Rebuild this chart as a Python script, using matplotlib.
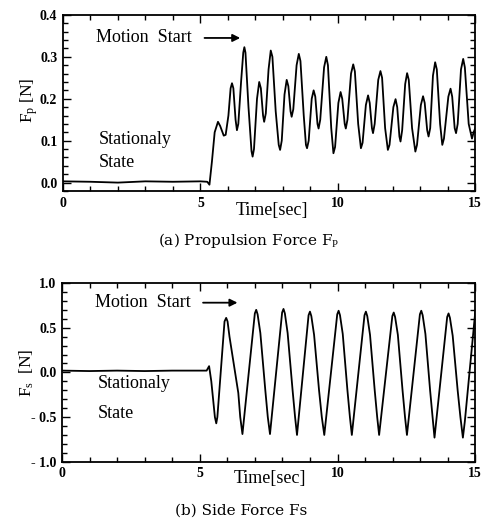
import numpy as np
import matplotlib
matplotlib.use("Agg")
import matplotlib.pyplot as plt
from matplotlib.ticker import MultipleLocator

plt.rcParams['font.family'] = 'Liberation Serif'
plt.rcParams['mathtext.fontset'] = 'custom'
plt.rcParams['mathtext.rm'] = 'Liberation Serif'
plt.rcParams['mathtext.it'] = 'Liberation Serif:italic'

# Propulsion force Fp
t_fp = [0.0, 1.0, 2.0, 3.0, 4.0, 5.0, 5.25, 5.33, 5.42, 5.52, 5.64, 5.72, 5.85, 5.92,
        6.02, 6.10, 6.15, 6.20, 6.28, 6.33, 6.38, 6.48, 6.56, 6.60, 6.64, 6.75, 6.86, 6.90,
        6.95, 7.06, 7.14, 7.20, 7.28, 7.32, 7.38, 7.48, 7.56, 7.62, 7.74, 7.85, 7.90,
        7.96, 8.06, 8.14, 8.20, 8.28, 8.32, 8.38, 8.50, 8.58, 8.64, 8.76, 8.84, 8.88,
        8.94, 9.05, 9.12, 9.18, 9.26, 9.30, 9.36, 9.50, 9.58, 9.64, 9.76, 9.84,
        9.90, 10.02, 10.10, 10.16, 10.25, 10.29, 10.35, 10.48, 10.56, 10.62, 10.74, 10.84,
        10.90, 11.02, 11.10, 11.16, 11.24, 11.28, 11.34, 11.47, 11.55, 11.61, 11.72, 11.82,
        11.88, 12.02, 12.10, 12.16, 12.24, 12.28, 12.34, 12.45, 12.52, 12.58, 12.70, 12.82,
        12.88, 13.02, 13.10, 13.16, 13.25, 13.30, 13.36, 13.46, 13.54, 13.60, 13.72, 13.80,
        13.86, 14.02, 14.10, 14.16, 14.25, 14.30, 14.36, 14.48, 14.56, 14.62, 14.76, 14.88,
        14.94, 15.0]
fp = [0.003, 0.002, 0.0, 0.003, 0.002, 0.003, 0.002, -0.005, 0.05, 0.12, 0.145, 0.135, 0.112, 0.114,
      0.16, 0.225, 0.237, 0.225, 0.15, 0.125, 0.14, 0.24, 0.31, 0.323, 0.31, 0.18, 0.075, 0.062,
      0.08, 0.20, 0.24, 0.225, 0.16, 0.145, 0.165, 0.27, 0.315, 0.30, 0.17, 0.09, 0.078,
      0.10, 0.21, 0.245, 0.23, 0.17, 0.157, 0.175, 0.28, 0.307, 0.29, 0.16, 0.09, 0.082,
      0.10, 0.20, 0.22, 0.205, 0.14, 0.129, 0.15, 0.275, 0.30, 0.28, 0.13, 0.07,
      0.085, 0.19, 0.216, 0.20, 0.14, 0.129, 0.15, 0.26, 0.282, 0.265, 0.14, 0.082,
      0.095, 0.185, 0.208, 0.19, 0.13, 0.118, 0.14, 0.245, 0.266, 0.25, 0.13, 0.078,
      0.09, 0.18, 0.199, 0.18, 0.11, 0.098, 0.125, 0.235, 0.261, 0.245, 0.13, 0.074,
      0.09, 0.185, 0.206, 0.19, 0.125, 0.11, 0.13, 0.255, 0.287, 0.27, 0.14, 0.09,
      0.105, 0.205, 0.224, 0.205, 0.13, 0.118, 0.14, 0.27, 0.295, 0.275, 0.14, 0.105,
      0.12, 0.13]

# Side force Fs
t_fs = [0.0, 1.0, 2.0, 3.0, 4.0, 5.0, 5.25, 5.34, 5.42, 5.55, 5.60, 5.64, 5.90, 5.96, 6.01,
        6.08, 6.40, 6.47, 6.55,
        7.00, 7.05, 7.10, 7.20, 7.38, 7.47, 7.55,
        7.99, 8.04, 8.09, 8.19, 8.37, 8.46, 8.53,
        8.95, 9.00, 9.05, 9.15, 9.33, 9.43, 9.52,
        9.99, 10.04, 10.09, 10.19, 10.36, 10.45, 10.52,
        10.98, 11.03, 11.08, 11.18, 11.35, 11.44, 11.51,
        11.99, 12.04, 12.09, 12.19, 12.36, 12.45, 12.52,
        12.99, 13.04, 13.09, 13.19, 13.36, 13.45, 13.52,
        13.98, 14.03, 14.08, 14.18, 14.36, 14.46, 14.55,
        14.62, 15.0]
fs = [0.02, 0.015, 0.02, 0.015, 0.02, 0.02, 0.02, 0.07, -0.1, -0.5, -0.57, -0.5, 0.57, 0.61, 0.57,
      0.40, -0.23, -0.5, -0.69,
      0.66, 0.70, 0.65, 0.44, -0.2, -0.5, -0.69,
      0.67, 0.71, 0.66, 0.44, -0.2, -0.5, -0.70,
      0.64, 0.68, 0.63, 0.42, -0.2, -0.5, -0.70,
      0.65, 0.69, 0.64, 0.43, -0.2, -0.5, -0.70,
      0.64, 0.68, 0.63, 0.42, -0.2, -0.5, -0.70,
      0.63, 0.67, 0.62, 0.42, -0.2, -0.5, -0.70,
      0.65, 0.69, 0.64, 0.43, -0.2, -0.5, -0.73,
      0.62, 0.66, 0.61, 0.41, -0.2, -0.5, -0.73,
      -0.55, 0.68]

fig = plt.figure(figsize=(4.84, 5.32), dpi=100)
ax1 = fig.add_axes([0.130, 0.641, 0.852, 0.331])
ax2 = fig.add_axes([0.128, 0.132, 0.854, 0.336])

for ax in (ax1, ax2):
    ax.set_xlim(0, 15)
    ax.xaxis.set_major_locator(MultipleLocator(5))
    ax.xaxis.set_minor_locator(MultipleLocator(1))
    ax.tick_params(which='both', direction='in', top=True, right=True,
                   labelsize=10, width=1.0, pad=4)
    ax.tick_params(which='major', length=6)
    ax.tick_params(which='minor', length=3.5)
    for s in ax.spines.values():
        s.set_linewidth(1.3)

ax1.plot(t_fp, fp, color='black', lw=1.3)
ax1.set_ylim(-0.02, 0.4)
ax1.yaxis.set_minor_locator(MultipleLocator(0.02))
ax1.set_yticks([0.0, 0.1, 0.2, 0.3, 0.4])
ax1.set_yticklabels(['0.0', '0.1', '0.2', '0.3', '0.4'], fontweight='bold')
ax1.set_xticks([0, 5, 10, 15])
ax1.set_xticklabels(['0', '5', '10', '15'], fontweight='bold')
ax1.text(1.2, 0.345, 'Motion  Start', fontsize=13, va='center')
ax1.annotate('', xy=(6.55, 0.345), xytext=(5.05, 0.345),
             arrowprops=dict(arrowstyle='-|>', color='black', lw=1.3,
                             mutation_scale=11))
ax1.text(1.3, 0.102, 'Stationaly', fontsize=13, va='center')
ax1.text(1.3, 0.047, 'State', fontsize=13, va='center')

ax2.plot(t_fs, fs, color='black', lw=1.3)
ax2.set_ylim(-1.0, 1.0)
ax2.yaxis.set_minor_locator(MultipleLocator(0.1))
ax2.set_yticks([-1.0, -0.5, 0.0, 0.5, 1.0])
ax2.set_yticklabels(['- 1.0', '- 0.5', '0.0', '0.5', '1.0'], fontweight='bold')
ax2.set_xticks([0, 5, 10, 15])
ax2.set_xticklabels(['0', '5', '10', '15'], fontweight='bold')
ax2.text(1.2, 0.78, 'Motion  Start', fontsize=13, va='center')
ax2.annotate('', xy=(6.47, 0.78), xytext=(5.02, 0.78),
             arrowprops=dict(arrowstyle='-|>', color='black', lw=1.3,
                             mutation_scale=11))
ax2.text(1.3, -0.12, 'Stationaly', fontsize=13, va='center')
ax2.text(1.3, -0.46, 'State', fontsize=13, va='center')

fig.text(29 / 484, 1 - 100 / 532, r'F$_{\rm p}$ [N]', rotation=90,
         fontsize=12.5, ha='center', va='center')
fig.text(27 / 484, 1 - 373 / 532, r'F$_{\rm s}$  [N]', rotation=90,
         fontsize=12.5, ha='center', va='center')
fig.text(272 / 484, 1 - 210 / 532, 'Time[sec]', fontsize=13, ha='center', va='center')
fig.text(270 / 484, 1 - 479 / 532, 'Time[sec]', fontsize=13, ha='center', va='center')
fig.text(249 / 484, 1 - 240 / 532, r'(a) Propulsion Force F$_{\rm P}$', fontsize=11,
         family='DejaVu Serif', ha='center', va='center')
fig.text(241 / 484, 1 - 511 / 532, '(b) Side Force Fs', fontsize=11,
         family='DejaVu Serif', ha='center', va='center')

fig.savefig('out.png', dpi=100)
